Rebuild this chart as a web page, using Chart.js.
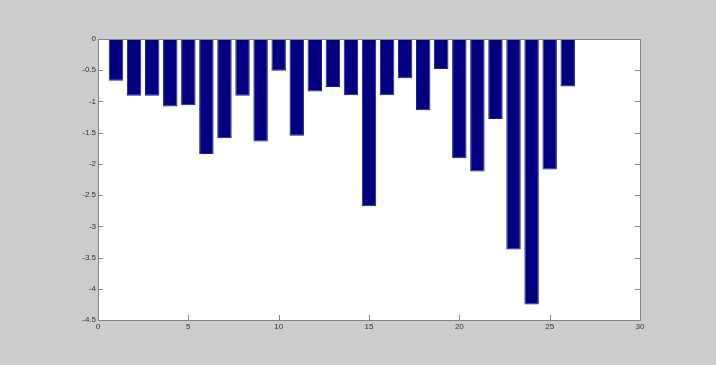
<!DOCTYPE html>
<html>
<head>
<meta charset="utf-8">
<script src="https://cdn.jsdelivr.net/npm/chart.js@4/dist/chart.umd.min.js"></script>
<style>
  html, body { margin: 0; padding: 0; background: #cccccc; }
  #wrap { width: 716px; height: 365px; }
</style>
</head>
<body>
<div id="wrap"><canvas id="graph" width="716" height="365"></canvas></div>
<script>
// bar positions and heights
const positions = [1, 2, 3, 4, 5, 6, 7, 8, 9, 10, 11, 12, 13, 14, 15, 16, 17, 18, 19, 20, 21, 22, 23, 24, 25, 26];
const values = [-0.67, -0.91, -0.91, -1.08, -1.06, -1.84, -1.59, -0.91, -1.64, -0.51, -1.55, -0.84, -0.77, -0.90,
                -2.68, -0.90, -0.63, -1.14, -0.48, -1.91, -2.12, -1.28, -3.37, -4.25, -2.09, -0.76];
const xTicks = [0, 5, 10, 15, 20, 25, 30];
const yTicks = [0, -0.5, -1, -1.5, -2, -2.5, -3, -3.5, -4, -4.5];

const barColor = '#000080';
const axisColor = '#858585';

// white axes box with inward tick marks, like the original
const boxPlugin = {
    id: 'box',
    beforeDraw(chart) {
        const ctx = chart.ctx;
        const a = chart.chartArea;
        ctx.save();
        ctx.fillStyle = '#cccccc';
        ctx.fillRect(0, 0, chart.width, chart.height);
        ctx.fillStyle = '#ffffff';
        ctx.fillRect(a.left, a.top, a.right - a.left, a.bottom - a.top);
        ctx.restore();
    },
    afterDraw(chart) {
        const ctx = chart.ctx;
        const a = chart.chartArea;
        const xs = chart.scales.x;
        const ys = chart.scales.y;
        ctx.save();
        ctx.strokeStyle = axisColor;
        ctx.lineWidth = 1;
        ctx.beginPath();
        xTicks.forEach(v => {
            const px = Math.round(xs.getPixelForValue(v)) + 0.5;
            ctx.moveTo(px, a.bottom);
            ctx.lineTo(px, a.bottom - 5);
        });
        yTicks.forEach(v => {
            const py = Math.round(ys.getPixelForValue(v)) + 0.5;
            ctx.moveTo(a.left, py);
            ctx.lineTo(a.left + 5, py);
            ctx.moveTo(a.right, py);
            ctx.lineTo(a.right - 5, py);
        });
        ctx.stroke();
        ctx.strokeRect(Math.round(a.left) + 0.5, Math.round(a.top) + 0.5,
            Math.round(a.right - a.left), Math.round(a.bottom - a.top));
        ctx.restore();
    }
};

new Chart(document.getElementById('graph'), {
    type: 'bar',
    data: {
        datasets: [{
            data: positions.map((p, i) => ({ x: p, y: values[i] })),
            backgroundColor: barColor,
            borderColor: '#1e1e92',
            borderWidth: 1,
            barPercentage: 0.8,
            categoryPercentage: 1.0
        }]
    },
    plugins: [boxPlugin],
    options: {
        responsive: false,
        animation: false,
        layout: { padding: { top: 39, right: 76, left: 0, bottom: 0 } },
        plugins: { legend: { display: false }, tooltip: { enabled: false } },
        scales: {
            x: {
                type: 'linear',
                offset: false,
                min: 0,
                max: 30,
                afterBuildTicks(scale) { scale.ticks = xTicks.map(v => ({ value: v })); },
                afterFit(scale) { scale.height = 45; },
                grid: { display: false, drawTicks: false, offset: false },
                border: { display: false },
                ticks: {
                    padding: 2,
                    color: '#333333',
                    font: { family: 'Liberation Sans', size: 8 },
                    maxRotation: 0,
                    callback: v => String(v)
                }
            },
            y: {
                min: -4.5,
                max: 0,
                afterBuildTicks(scale) { scale.ticks = yTicks.map(v => ({ value: v })); },
                afterFit(scale) { scale.width = 98; },
                grid: { display: false, drawTicks: false },
                border: { display: false },
                ticks: {
                    padding: 2,
                    color: '#333333',
                    font: { family: 'Liberation Sans', size: 8 },
                    callback: v => String(v)
                }
            }
        }
    }
});
</script>
</body>
</html>
